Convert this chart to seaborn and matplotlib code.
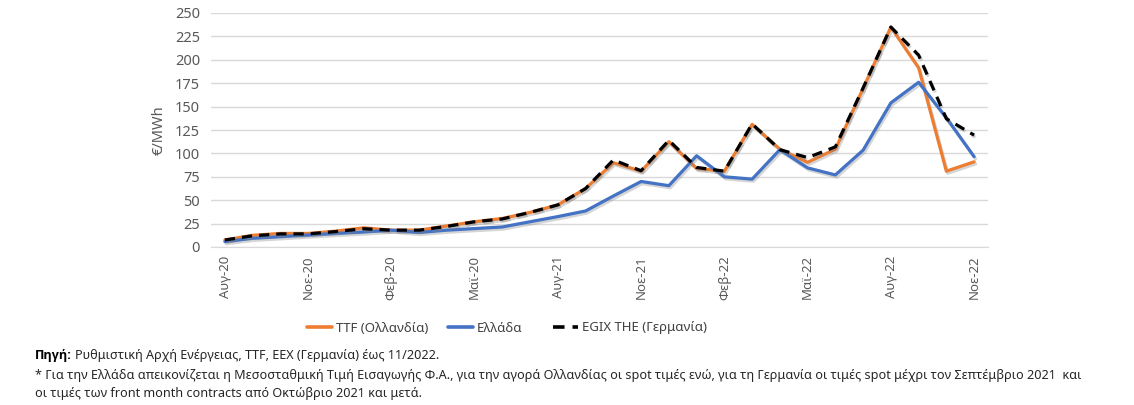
import numpy as np
import pandas as pd
import matplotlib
matplotlib.use("Agg")
import matplotlib.pyplot as plt
import matplotlib.patheffects as pe
import seaborn as sns

# ---- data ----
months = ["Αυγ-20", "Σεπ-20", "Οκτ-20", "Νοε-20", "Δεκ-20", "Ιαν-21", "Φεβ-21", "Μαρ-21",
          "Απρ-21", "Μαϊ-21", "Ιουν-21", "Ιουλ-21", "Αυγ-21", "Σεπ-21", "Οκτ-21", "Νοε-21",
          "Δεκ-21", "Ιαν-22", "Φεβ-22", "Μαρ-22", "Απρ-22", "Μαϊ-22", "Ιουν-22", "Ιουλ-22",
          "Αυγ-22", "Σεπ-22", "Οκτ-22", "Νοε-22"]
tick_labels = ["Αυγ-20", "Νοε-20", "Φεβ-20", "Μαϊ-20", "Αυγ-21", "Νοε-21", "Φεβ-22",
               "Μαϊ-22", "Αυγ-22", "Νοε-22"]
ttf = [7.5, 12.5, 14.5, 14.5, 17, 20.5, 18, 18, 22.5, 27, 30.5, 37,
       45, 62.5, 90, 81, 112.5, 84, 81, 131, 104.5, 90.5, 104.5, 169.5,
       235, 191.5, 81, 91]
greece = [5.7, 9.3, 11, 12.8, 14.5, 16, 18, 15.5, 18, 19.7, 21.4, 27,
          32.5, 38.5, 54.5, 70, 65.5, 97.5, 75, 72.5, 104, 84.5, 77, 103.5,
          154, 176, 138, 96.5]
egix = [7.5, 12, 14, 14, 16.5, 19.5, 18, 18, 22, 27, 30, 37,
        45, 62.5, 93, 81.5, 114, 85, 81, 131.5, 104, 95.5, 107, 170,
        235, 205, 137, 119.5]
series_names = ["TTF (Ολλανδία)", "Ελλάδα", "EGIX THE (Γερμανία)"]
colors = ["#ED7D31", "#4472C4", "#000000"]

sns.set_style("white")
plt.rcParams['font.family'] = ['Noto Sans', 'DejaVu Sans']

fig = plt.figure(figsize=(11.34, 4.05), dpi=100)
ax = fig.add_axes([211 / 1134, 1 - 247 / 405, (988 - 211) / 1134, (247 - 13) / 405])

x = np.arange(len(months))
df = pd.DataFrame({"x": x, "ttf": ttf, "gr": greece, "egix": egix})

shadow = [pe.SimpleLineShadow(offset=(1, -1.5), shadow_color="#888888", alpha=0.35), pe.Normal()]
sns.lineplot(data=df, x="x", y="ttf", ax=ax, color=colors[0], lw=2.3, path_effects=shadow)
sns.lineplot(data=df, x="x", y="gr", ax=ax, color=colors[1], lw=2.3, path_effects=shadow)
sns.lineplot(data=df, x="x", y="egix", ax=ax, color=colors[2], lw=2.3, path_effects=shadow)
ax.lines[-1].set_linestyle((0, (3.2, 2.2)))

ax.set_xlim(-0.5, len(months) - 0.5)
ax.set_ylim(0, 250)
ax.set_yticks(np.arange(0, 251, 25))
ax.set_xticks(np.arange(0, len(months), 3))
ax.set_xticklabels(tick_labels, rotation=90, fontsize=9.5, color="#595959")
ax.tick_params(axis='y', labelsize=10.5, labelcolor="#595959", length=0, pad=8)
ax.tick_params(axis='x', length=0, pad=6)
ax.grid(axis='y', color="#D9D9D9", lw=1)
ax.set_axisbelow(True)
for s in ["top", "right", "left"]:
    ax.spines[s].set_visible(False)
ax.spines["bottom"].set_color("#D9D9D9")
ax.set_xlabel("")
ax.set_ylabel("€/MWh", fontsize=10.5, color="#595959", labelpad=6)

# legend: one entry per position, as in the reference
from matplotlib.lines import Line2D
leg_x = [307, 448, 553]
for i, (name, col) in enumerate(zip(series_names, colors)):
    ls = (0, (3.2, 2.2)) if i == 2 else "-"
    h = Line2D([], [], color=col, lw=2.6, linestyle=ls)
    lg = fig.legend(handles=[h], labels=[name], loc="center left",
                    bbox_to_anchor=(leg_x[i] / 1134, 1 - 328 / 405), frameon=False,
                    fontsize=9.5, handlelength=1.9, handletextpad=0.3, borderpad=0, borderaxespad=0)
    for t in lg.get_texts():
        t.set_color("#404040")

# footnote
fs = 9.1
t1 = fig.text(35 / 1134, 1 - 356 / 405, "Πηγή:", fontsize=fs, fontweight="bold", va="center",
              color="#000000", family=["Open Sans", "DejaVu Sans"])
fig.canvas.draw()
bb = t1.get_window_extent(renderer=fig.canvas.get_renderer())
fig.text(bb.x1 / 1134 + 3 / 1134, 1 - 356 / 405,
         "Ρυθμιστική Αρχή Ενέργειας, TTF, EEX (Γερμανία) έως 11/2022.", fontsize=fs, va="center")
fig.text(35 / 1134, 1 - 375 / 405,
         "* Για την Ελλάδα απεικονίζεται η Μεσοσταθμική Τιμή Εισαγωγής Φ.Α., για την αγορά Ολλανδίας οι spot τιμές ενώ, "
         "για τη Γερμανία οι τιμές spot μέχρι τον Σεπτέμβριο 2021  και", fontsize=fs, va="center")
fig.text(35 / 1134, 1 - 393 / 405,
         "οι τιμές των front month contracts από Οκτώβριο 2021 και μετά.", fontsize=fs, va="center")

fig.savefig("out.png", dpi=100)
